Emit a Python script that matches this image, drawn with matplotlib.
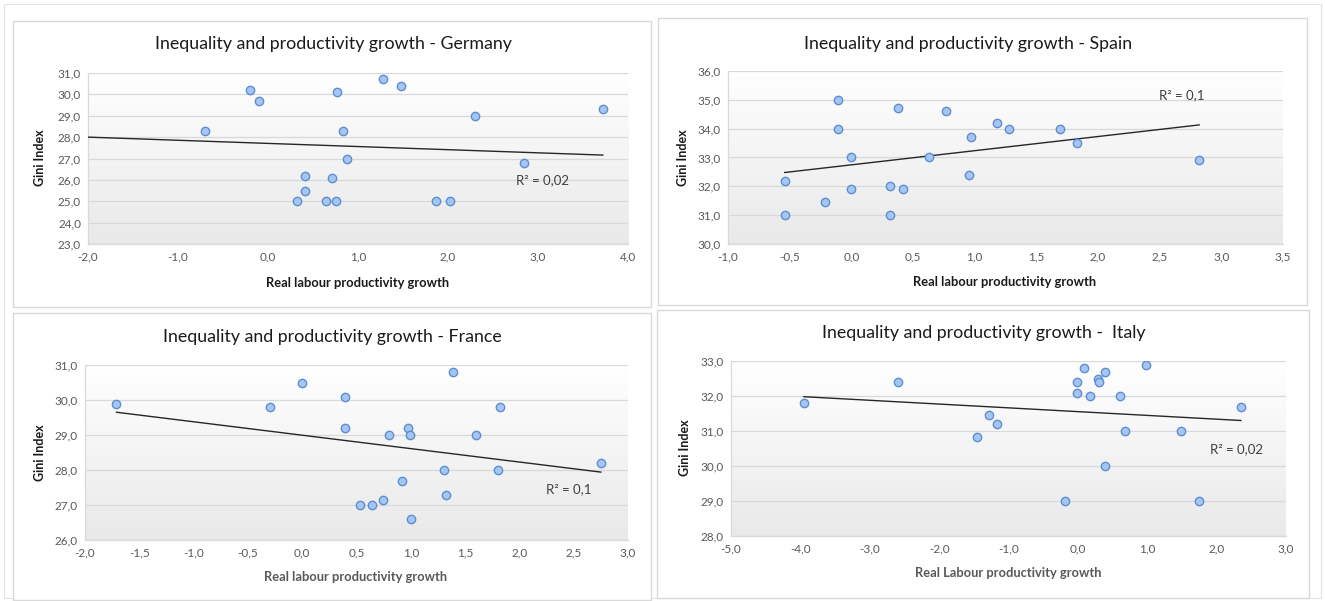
import numpy as np
import matplotlib
matplotlib.use("Agg")
import matplotlib.pyplot as plt
from matplotlib.patches import Rectangle
from matplotlib.colors import LinearSegmentedColormap
from matplotlib.ticker import FuncFormatter, MultipleLocator

plt.rcParams['font.family'] = ['Lato', 'DejaVu Sans']

# ---------------- data ----------------
ger_x = [-0.7, -0.2, -0.1, 0.32, 0.41, 0.41, 0.64, 0.76, 0.71, 0.77, 0.83, 0.88, 1.28, 1.48, 1.87, 2.02, 2.30, 2.84, 3.72]
ger_y = [28.3, 30.2, 29.7, 25.0, 26.2, 25.5, 25.0, 25.0, 26.1, 30.1, 28.3, 27.0, 30.7, 30.4, 25.0, 25.0, 29.0, 26.8, 29.3]
ger_trend_x = [-2.0, 3.72]
ger_trend_y = [28.0, 27.16]

spa_x = [-0.54, -0.54, -0.21, -0.11, -0.11, 0.0, 0.0, 0.31, 0.31, 0.38, 0.42, 0.63, 0.77, 0.95, 0.97, 1.18, 1.28, 1.69, 1.83, 2.82]
spa_y = [32.2, 31.0, 31.45, 35.0, 34.0, 33.0, 31.9, 32.0, 31.0, 34.7, 31.9, 33.0, 34.6, 32.4, 33.7, 34.2, 34.0, 34.0, 33.5, 32.9]
spa_trend_x = [-0.54, 2.82]
spa_trend_y = [32.48, 34.13]

fra_x = [-1.71, -0.30, 0.0, 0.39, 0.39, 0.53, 0.64, 0.74, 0.80, 0.92, 0.97, 0.99, 1.0, 1.31, 1.32, 1.39, 1.60, 1.80, 1.82, 2.75]
fra_y = [29.9, 29.8, 30.5, 30.1, 29.2, 27.0, 27.0, 27.15, 29.0, 27.7, 29.2, 29.0, 26.6, 28.0, 27.3, 30.8, 29.0, 28.0, 29.8, 28.2]
fra_trend_x = [-1.71, 2.75]
fra_trend_y = [29.65, 27.94]

ita_x = [-3.95, -2.59, -1.46, -1.28, -1.16, -0.18, -0.01, -0.01, 0.09, 0.18, 0.29, 0.31, 0.385, 0.385, 0.60, 0.68, 0.98, 1.49, 1.74, 2.35]
ita_y = [31.8, 32.4, 30.84, 31.47, 31.2, 29.0, 32.4, 32.1, 32.8, 32.0, 32.5, 32.4, 32.7, 30.0, 32.0, 31.0, 32.9, 31.0, 29.0, 31.7]
ita_trend_x = [-3.95, 2.35]
ita_trend_y = [31.98, 31.30]

titles = ["Inequality and productivity growth - Germany",
          "Inequality and productivity growth - Spain",
          "Inequality and productivity growth - France",
          "Inequality and productivity growth -  Italy"]
xlabels = ["Real labour productivity growth", "Real labour productivity growth",
           "Real labour productivity growth", "Real Labour productivity growth"]
ylabel = "Gini Index"
r2_labels = ["R² = 0,02", "R² = 0,1", "R² = 0,1", "R² = 0,02"]

W, H = 1325, 601
fig = plt.figure(figsize=(W / 100, H / 100), dpi=100)
fig.patch.set_facecolor("white")

def fx(px):
    return px / W

def fy(py):
    return 1 - py / H

# outer frame and panel frames (pixel boxes: left, top, right, bottom)
fig.add_artist(Rectangle((fx(4), fy(598)), fx(1321 - 4), (598 - 4) / H,
                         transform=fig.transFigure, fill=False, ec="#e4e4e4", lw=0.8, zorder=-20))
panels = [(13, 21, 651, 307), (658, 18, 1307, 305), (13, 313, 651, 600), (657, 310, 1309, 598)]
for (l, t, r, b) in panels:
    fig.add_artist(Rectangle((fx(l), fy(b)), fx(r - l), (b - t) / H,
                             transform=fig.transFigure, fill=True, fc="white", ec="#d9d9d9", lw=1.0,
                             zorder=-10))

specs = [
    dict(x=ger_x, y=ger_y, tx=ger_trend_x, ty=ger_trend_y, box=(88, 73, 628, 244), xlim=(-2, 4), xstep=1.0,
         ylim=(23, 31), ystep=1.0, title_xy=(333, 44), xl_xy=(358, 283), yl_xy=(40, 158), lab_col="#1a1a1a",
         r2_xy=(3.05, 26.0)),
    dict(x=spa_x, y=spa_y, tx=spa_trend_x, ty=spa_trend_y, box=(728, 71, 1283, 244), xlim=(-1, 3.5), xstep=0.5,
         ylim=(30, 36), ystep=1.0, title_xy=(968, 44), xl_xy=(1005, 282), yl_xy=(683, 158), lab_col="#1a1a1a",
         r2_xy=(2.68, 35.15)),
    dict(x=fra_x, y=fra_y, tx=fra_trend_x, ty=fra_trend_y, box=(85, 365, 628, 540), xlim=(-2, 3), xstep=0.5,
         ylim=(26, 31), ystep=1.0, title_xy=(332, 337), xl_xy=(356, 577), yl_xy=(40, 453), lab_col="#595959",
         r2_xy=(2.45, 27.44)),
    dict(x=ita_x, y=ita_y, tx=ita_trend_x, ty=ita_trend_y, box=(731, 361, 1286, 536), xlim=(-5, 3), xstep=1.0,
         ylim=(28, 33), ystep=1.0, title_xy=(984, 333), xl_xy=(1008, 573), yl_xy=(685, 448), lab_col="#595959",
         r2_xy=(2.29, 30.47)),
]

grad = LinearSegmentedColormap.from_list("g", ["#e9e9e9", "#ffffff"])
fmt = FuncFormatter(lambda v, p: f"{v:.1f}".replace(".", ","))

for i, s in enumerate(specs):
    l, t, r, b = s["box"]
    ax = fig.add_axes([fx(l), fy(b), fx(r - l), (b - t) / H])
    ax.set_facecolor("none")
    ax.imshow(np.linspace(0, 1, 256)[:, None], extent=[0, 1, 0, 1], transform=ax.transAxes,
              aspect="auto", cmap=grad, origin="lower", zorder=0)
    ax.set_xlim(*s["xlim"]); ax.set_ylim(*s["ylim"])
    ax.xaxis.set_major_locator(MultipleLocator(s["xstep"]))
    ax.yaxis.set_major_locator(MultipleLocator(s["ystep"]))
    ax.xaxis.set_major_formatter(fmt); ax.yaxis.set_major_formatter(fmt)
    ax.grid(axis="y", color="#d9d9d9", lw=0.9, zorder=1)
    ax.set_axisbelow(True)
    for sp in ["top", "right"]:
        ax.spines[sp].set_visible(False)
    for sp in ["left", "bottom"]:
        ax.spines[sp].set_color("#d9d9d9"); ax.spines[sp].set_linewidth(0.9)
    ax.tick_params(length=0, labelsize=8.5, colors="#595959", pad=5)
    ax.plot(s["tx"], s["ty"], color="#262626", lw=1.0, zorder=3)
    ax.scatter(s["x"], s["y"], s=36, facecolor="#a7c6ef", edgecolor="#5b8ed6", linewidth=1.0, zorder=4)
    ax.text(*s["r2_xy"], r2_labels[i], ha="center", va="center", fontsize=9.5, color="#404040", zorder=5)
    fig.text(fx(s["title_xy"][0]), fy(s["title_xy"][1]), titles[i], ha="center", va="center",
             fontsize=12.8, color="#1a1a1a")
    fig.text(fx(s["xl_xy"][0]), fy(s["xl_xy"][1]), xlabels[i], ha="center", va="center",
             fontsize=9.3, fontweight="bold", color=s["lab_col"])
    fig.text(fx(s["yl_xy"][0]), fy(s["yl_xy"][1]), ylabel, ha="center", va="center", rotation=90,
             fontsize=9, fontweight="bold", color="#1a1a1a")

fig.savefig("out.png", dpi=100, facecolor="white")
